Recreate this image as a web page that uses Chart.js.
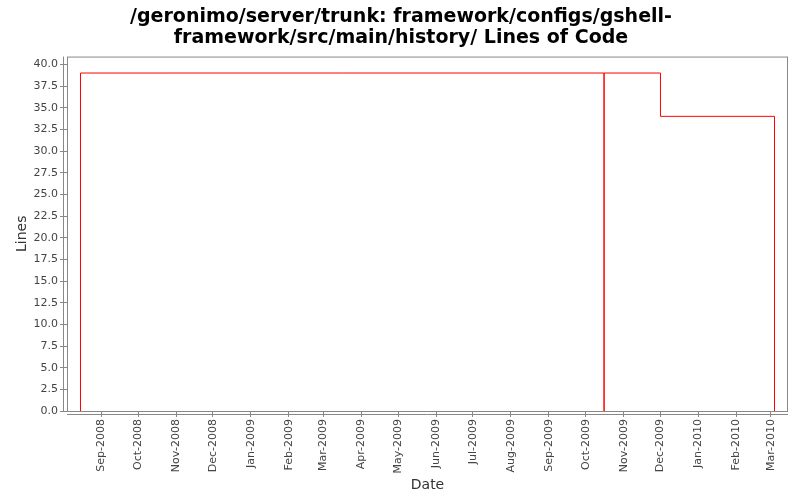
<!DOCTYPE html>
<html>
<head>
<meta charset="utf-8">
<script src="https://cdn.jsdelivr.net/npm/chart.js@4/dist/chart.umd.min.js"></script>
<style>
  html, body { margin: 0; padding: 0; background: #fff; }
  #wrap { width: 800px; height: 500px; }
</style>
</head>
<body>
<div id="wrap"><canvas id="loc-chart" width="800" height="500"></canvas></div>
<script>
// ─── Data ─────────────────────────────────────────────────────────────────────
const titleLines = ['/geronimo/server/trunk: framework/configs/gshell-', 'framework/src/main/history/ Lines of Code'];
const stepDates  = ['2008-08-15', '2008-08-15', '2009-10-16', '2009-10-16', '2009-12-01', '2010-03-04'];
const stepLines  = [0, 39, 0, 39, 34, 0];
const monthTicks = ['2008-09-01','2008-10-01','2008-11-01','2008-12-01','2009-01-01','2009-02-01',
                    '2009-03-01','2009-04-01','2009-05-01','2009-06-01','2009-07-01','2009-08-01',
                    '2009-09-01','2009-10-01','2009-11-01','2009-12-01','2010-01-01','2010-02-01','2010-03-01'];
const monthNames = ['Jan','Feb','Mar','Apr','May','Jun','Jul','Aug','Sep','Oct','Nov','Dec'];
const lineTicks  = [0, 2.5, 5, 7.5, 10, 12.5, 15, 17.5, 20, 22.5, 25, 27.5, 30, 32.5, 35, 37.5, 40];
const xRange     = ['2008-08-04', '2010-03-15'];
const yMax       = 40.9;

const toMs = s => Date.parse(s + 'T00:00:00Z');
const fmtMonth = v => { const d = new Date(v); return `${monthNames[d.getUTCMonth()]}-${d.getUTCFullYear()}`; };

// plot frame + offset axis lines, JFreeChart style
const framePlugin = {
  id: 'frame',
  afterDraw(chart) {
    const { ctx, chartArea: a } = chart;
    ctx.save();
    ctx.strokeStyle = '#888';
    ctx.lineWidth = 1;
    ctx.strokeRect(a.left + 0.5, a.top + 0.5, a.right - a.left - 1, a.bottom - a.top);
    ctx.beginPath();
    ctx.moveTo(a.left - 3.5, a.top);
    ctx.lineTo(a.left - 3.5, a.bottom + 0.5);
    ctx.moveTo(a.left, a.bottom + 3.5);
    ctx.lineTo(a.right, a.bottom + 3.5);
    ctx.stroke();
    ctx.restore();
  }
};

new Chart(document.getElementById('loc-chart').getContext('2d'), {
  type: 'line',
  data: {
    datasets: [{
      data: stepDates.map((d, i) => ({ x: toMs(d), y: stepLines[i] })),
      borderColor: '#ff0000',
      borderWidth: 1,
      pointRadius: 0,
      stepped: 'before',
      fill: false,
    }]
  },
  options: {
    responsive: false,
    animation: false,
    layout: { padding: { left: 14, right: 12, top: 0, bottom: 6 } },
    plugins: {
      legend: { display: false },
      tooltip: { enabled: false },
      title: {
        display: true,
        text: titleLines,
        color: '#000',
        font: { family: 'DejaVu Sans', size: 19, weight: 'bold', lineHeight: 1.12 },
        padding: { top: 6, bottom: 8 }
      }
    },
    scales: {
      x: {
        type: 'linear',
        min: toMs(xRange[0]),
        max: toMs(xRange[1]),
        afterBuildTicks: s => { s.ticks = monthTicks.map(t => ({ value: toMs(t) })); },
        afterFit: s => { s.height = 83; },
        grid: { drawOnChartArea: false, drawTicks: true, tickLength: 6, color: '#888' },
        border: { display: false },
        ticks: {
          autoSkip: false, minRotation: 90, maxRotation: 90,
          color: '#444', font: { family: 'DejaVu Sans', size: 11 },
          padding: 2,
          callback: v => fmtMonth(v)
        },
        title: { display: true, text: 'Date', color: '#333', font: { family: 'DejaVu Sans', size: 14 }, padding: { top: 0, bottom: 0 } }
      },
      y: {
        min: 0,
        max: yMax,
        afterBuildTicks: s => { s.ticks = lineTicks.map(v => ({ value: v })); },
        afterFit: s => { s.width = 53; },
        grid: { drawOnChartArea: false, drawTicks: true, tickLength: 7, color: '#888' },
        border: { display: false },
        ticks: {
          color: '#444', font: { family: 'DejaVu Sans', size: 11 },
          padding: 2,
          callback: v => v.toFixed(1)
        },
        title: { display: true, text: 'Lines', color: '#333', font: { family: 'DejaVu Sans', size: 14 }, padding: { top: 0, bottom: 0 } }
      }
    }
  },
  plugins: [framePlugin]
});
</script>
</body>
</html>
